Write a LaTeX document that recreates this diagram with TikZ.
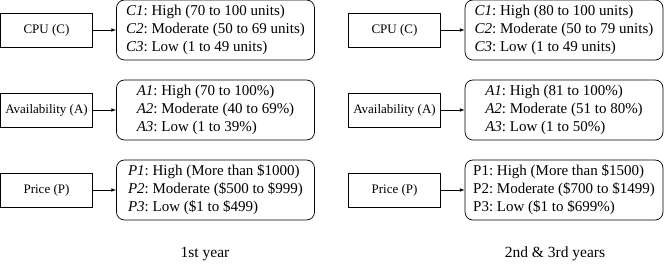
\documentclass[tikz,border=0pt]{standalone}
\usepackage{fontspec}
\setmainfont{Liberation Serif}

\begin{document}
\frenchspacing
\begin{tikzpicture}[x=1pt, y=1pt,
    factor/.style={draw, line width=0.7pt, minimum width=92pt, minimum height=34pt, inner sep=1pt, font=\fontsize{13}{15}\selectfont},
    levels/.style={draw, line width=0.7pt, rounded corners=8pt, align=left, minimum width=198pt, minimum height=60pt, inner sep=2pt, font=\fontsize{15}{18}\selectfont},
    link/.style={-latex, line width=0.7pt},
    caption/.style={font=\fontsize{15.5}{18}\selectfont}]
    % Picture frame
    \useasboundingbox (0,0) rectangle (664,268);

    % 1st year factors
    \node[factor] (cpu1) at (46.5,238) {CPU (C)};
    \node[factor] (avail1) at (46.5,158) {Availability (A)};
    \node[factor] (price1) at (46.5,78) {Price (P)};

    % 1st year levels
    \node[levels] (cpu1lv) at (215.5,238) {\textit{C1}: High (70 to 100 units)\\\textit{C2}: Moderate (50 to 69 units)\\\textit{C3}: Low (1 to 49 units)};
    \node[levels] (avail1lv) at (215.5,158) {\textit{A1}: High (70 to 100\%)\\\textit{A2}: Moderate (40 to 69\%)\\\textit{A3}: Low (1 to 39\%)};
    \node[levels] (price1lv) at (215.5,78) {\textit{P1}: High (More than \$1000)\\\textit{P2}: Moderate (\$500 to \$999)\\\textit{P3}: Low (\$1 to \$499)};

    % 2nd & 3rd years factors
    \node[factor] (cpu2) at (394.5,238) {CPU (C)};
    \node[factor] (avail2) at (394.5,158) {Availability (A)};
    \node[factor] (price2) at (394.5,78) {Price (P)};

    % 2nd & 3rd years levels
    \node[levels] (cpu2lv) at (564,238) {\textit{C1}: High (80 to 100 units)\\\textit{C2}: Moderate (50 to 79 units)\\\textit{C3}: Low (1 to 49 units)};
    \node[levels] (avail2lv) at (564,158) {\textit{A1}: High (81 to 100\%)\\\textit{A2}: Moderate (51 to 80\%)\\\textit{A3}: Low (1 to 50\%)};
    \node[levels] (price2lv) at (564,78) {P1: High (More than \$1500)\\P2: Moderate (\$700 to \$1499)\\P3: Low (\$1 to \$699\%)};

    % Arrows
    \draw[link] (cpu1) -- (cpu1lv);
    \draw[link] (avail1) -- (avail1lv);
    \draw[link] (price1) -- (price1lv);
    \draw[link] (cpu2) -- (cpu2lv);
    \draw[link] (avail2) -- (avail2lv);
    \draw[link] (price2) -- (price2lv);

    % Captions
    \node[caption] (year1) at (205,14) {1st year};
    \node[caption] (year23) at (555,14) {2nd \& 3rd years};
\end{tikzpicture}
\end{document}
